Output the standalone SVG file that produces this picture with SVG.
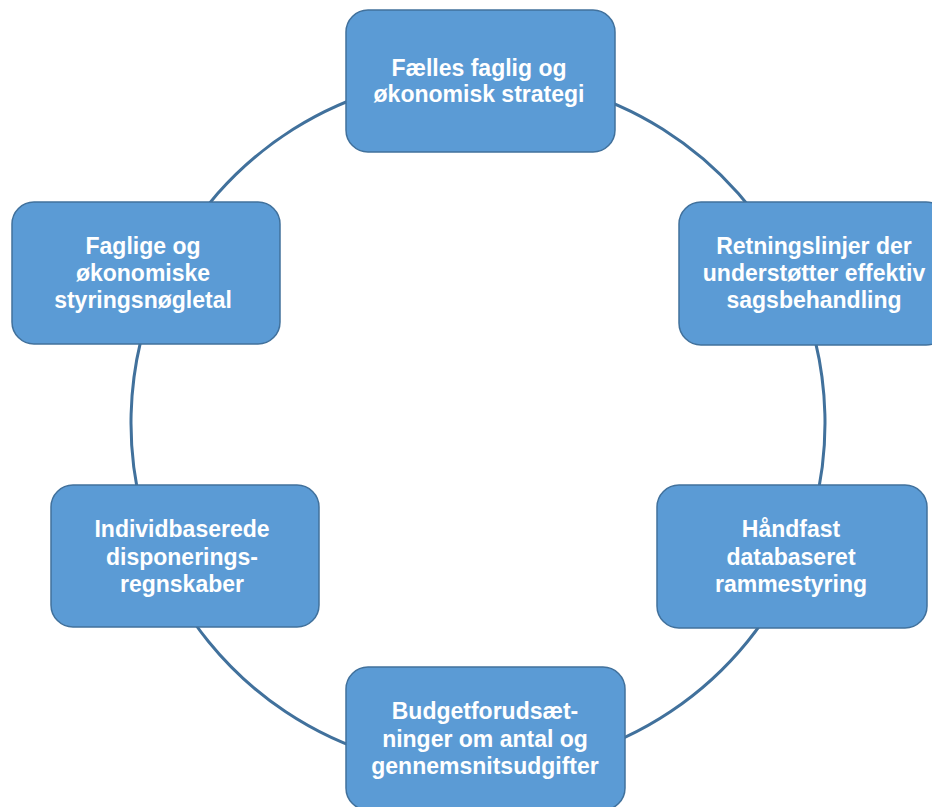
<svg xmlns="http://www.w3.org/2000/svg" width="932" height="807" viewBox="0 0 932 807">
<style>
.ring{fill:none;stroke:#41719C;stroke-width:3}
.box{fill:#5B9BD5;stroke:#41719C;stroke-width:1.5}
.lbl{fill:#FFFFFF;font-family:"Liberation Sans",Arial,sans-serif;font-weight:bold;font-size:23px;text-anchor:middle}
</style>
<rect width="932" height="807" fill="#FFFFFF"/>
<g id="connectors">
<path class="ring" d="M478,76 A347,347 0 0 1 790.9,273"/>
<path class="ring" d="M790.9,273 A347,347 0 0 1 798.5,556"/>
<path class="ring" d="M798.5,556 A347,347 0 0 1 478,770"/>
<path class="ring" d="M478,770 A347,347 0 0 1 157.5,556"/>
<path class="ring" d="M157.5,556 A347,347 0 0 1 165.1,273"/>
<path class="ring" d="M165.1,273 A347,347 0 0 1 478,76"/>
</g>
<g id="node-top">
<rect class="box" x="346" y="10" width="269" height="142" rx="22"/>
<text class="lbl" x="479" y="76">Fælles faglig og</text>
<text class="lbl" x="479" y="102">økonomisk strategi</text>
</g>
<g id="node-right-upper">
<rect class="box" x="679" y="202" width="269" height="143" rx="22"/>
<text class="lbl" x="814" y="254">Retningslinjer der</text>
<text class="lbl" x="814" y="281">understøtter effektiv</text>
<text class="lbl" x="814" y="308">sagsbehandling</text>
</g>
<g id="node-right-lower">
<rect class="box" x="657" y="485" width="270" height="143" rx="22"/>
<text class="lbl" x="791" y="537">Håndfast</text>
<text class="lbl" x="791" y="565">databaseret</text>
<text class="lbl" x="791" y="592">rammestyring</text>
</g>
<g id="node-bottom">
<rect class="box" x="346" y="667" width="279" height="143" rx="22"/>
<text class="lbl" x="485" y="719">Budgetforudsæt-</text>
<text class="lbl" x="485" y="747">ninger om antal og</text>
<text class="lbl" x="485" y="774">gennemsnitsudgifter</text>
</g>
<g id="node-left-lower">
<rect class="box" x="51" y="485" width="268" height="142" rx="22"/>
<text class="lbl" x="182" y="537">Individbaserede</text>
<text class="lbl" x="182" y="565">disponerings-</text>
<text class="lbl" x="182" y="592">regnskaber</text>
</g>
<g id="node-left-upper">
<rect class="box" x="12" y="202" width="268" height="142" rx="22"/>
<text class="lbl" x="143" y="254">Faglige og</text>
<text class="lbl" x="143" y="281">økonomiske</text>
<text class="lbl" x="143" y="308">styringsnøgletal</text>
</g>
</svg>
